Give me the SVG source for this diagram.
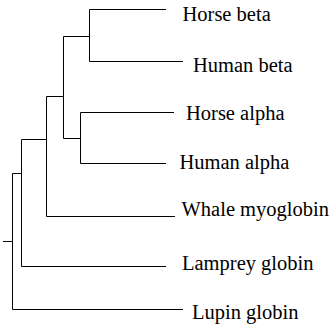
<svg xmlns="http://www.w3.org/2000/svg" width="334" height="326" viewBox="0 0 334 326">
<style>
.e{fill:none;stroke:#000;stroke-width:1}
.t{font-family:"Liberation Serif","Times New Roman",serif;font-size:20.5px;fill:#000}
</style>
<rect width="334" height="326" fill="#fff"/>
<g id="connectors">
<path class="e" d="M166,9.5H89.5V61.5H183"/>
<path class="e" d="M63.5,36.5H89.5"/>
<path class="e" d="M174,112.5H80.5V163.5H166"/>
<path class="e" d="M63.5,138.5H80.5"/>
<path class="e" d="M46.5,96.5H63.5V138.5"/>
<path class="e" d="M63.5,36.5V96.5"/>
<path class="e" d="M21.5,139.5H46.5"/>
<path class="e" d="M46.5,96.5V216.5H175"/>
<path class="e" d="M12.5,173.5H21.5V266.5H166"/>
<path class="e" d="M21.5,139.5V173.5"/>
<path class="e" d="M12.5,173.5V309.5H183"/>
<path class="e" d="M3,241.5H12.5"/>
</g>
<g id="horse-beta"><text class="t" x="182.5" y="20.5">Horse beta</text></g>
<g id="human-beta"><text class="t" x="193" y="71.5">Human beta</text></g>
<g id="horse-alpha"><text class="t" x="186" y="120">Horse alpha</text></g>
<g id="human-alpha"><text class="t" x="179.5" y="169">Human alpha</text></g>
<g id="whale-myoglobin"><text class="t" x="181.5" y="216">Whale myoglobin</text></g>
<g id="lamprey-globin"><text class="t" x="182" y="270">Lamprey globin</text></g>
<g id="lupin-globin"><text class="t" x="192" y="318.5">Lupin globin</text></g>
</svg>
